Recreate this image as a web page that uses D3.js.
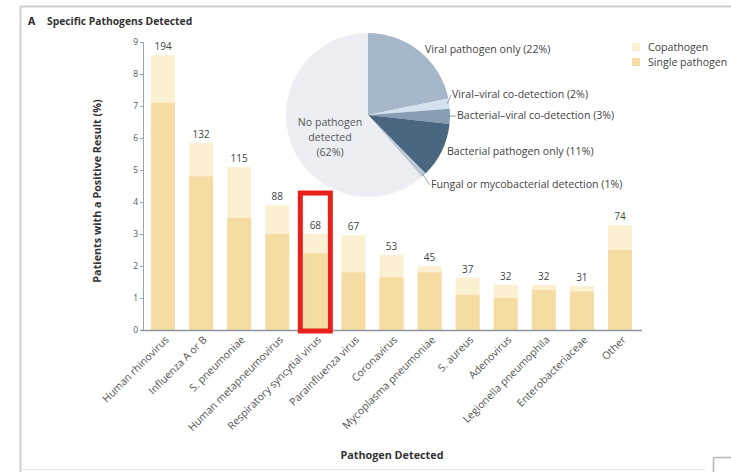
<!DOCTYPE html>
<html>
<head>
<meta charset="utf-8">
<script src="https://cdn.jsdelivr.net/npm/d3@7"></script>
<style>
  html, body { margin: 0; padding: 0; background: #fff; }
  svg { display: block; font-family: "Open Sans", "Noto Sans", sans-serif; }
</style>
</head>
<body>
<svg id="chart" width="731" height="472"></svg>
<script>
// Pathogens detected, patient counts and total enrolled
const pathogens = [
  "Human rhinovirus", "Influenza A or B", "S. pneumoniae", "Human metapneumovirus",
  "Respiratory syncytial virus", "Parainfluenza virus", "Coronavirus",
  "Mycoplasma pneumoniae", "S. aureus", "Adenovirus", "Legionella pneumophila",
  "Enterobacteriaceae", "Other"
];
const patientCounts = [194, 132, 115, 88, 68, 67, 53, 45, 37, 32, 32, 31, 74];
const totalPatients = 2259;
// Share of patients (%) in whom the pathogen was the only one detected
const singlePathogenPct = [7.1, 4.8, 3.5, 3.0, 2.4, 1.8, 1.65, 1.8, 1.1, 1.0, 1.25, 1.2, 2.5];
const yTicks = [0, 1, 2, 3, 4, 5, 6, 7, 8, 9];

// Overall detection breakdown (pie)
const pieLabels = [
  "Viral pathogen only (22%)", "Viral\u2013viral co-detection (2%)",
  "Bacterial\u2013viral co-detection (3%)", "Bacterial pathogen only (11%)",
  "Fungal or mycobacterial detection (1%)", "No pathogen detected (62%)"
];
const piePct = [22, 2, 3, 11, 1, 62];
const pieColors = ["#a6b7ca", "#d3e2ee", "#869db4", "#4a6680", "#b9c7d4", "#eceef4"];

const legendLabels = ["Copathogen", "Single pathogen"];
const copathColor = "#fbf1d2";
const singleColor = "#f5dca2";

const svg = d3.select("#chart");

// Panel frame
svg.append("path")
  .attr("d", "M20.5,472 L20.5,6.5 L731,6.5")
  .attr("fill", "none").attr("stroke", "#cfcfcf").attr("stroke-width", 2);
svg.append("path")
  .attr("d", "M20.5,469.5 L705,469.5")
  .attr("fill", "none").attr("stroke", "#e4e4e4").attr("stroke-width", 1);
svg.append("rect")
  .attr("x", 713.5).attr("y", 457.5).attr("width", 24).attr("height", 20).attr("rx", 2)
  .attr("fill", "none").attr("stroke", "#b5b5b5").attr("stroke-width", 1.5);

// Panel title
svg.append("text").attr("x", 28).attr("y", 25)
  .attr("font-size", 10.5).attr("font-weight", 700).attr("fill", "#222").text("A");
svg.append("text").attr("x", 47).attr("y", 25)
  .attr("font-size", 10.3).attr("font-weight", 700).attr("fill", "#333")
  .text("Specific Pathogens Detected");

// Scales
const x = d3.scaleBand().domain(pathogens).range([144, 639])
  .paddingInner(0.37).paddingOuter(0.185);
const y = d3.scaleLinear().domain([0, 9]).range([330, 42]);

const rows = pathogens.map((p, i) => ({
  name: p,
  count: patientCounts[i],
  total: patientCounts[i] / totalPatients * 100,
  single: singlePathogenPct[i]
}));

// Bars: full height (copathogen) then single-pathogen portion
const bars = svg.append("g");
bars.selectAll("rect.total").data(rows).join("rect")
  .attr("class", "total")
  .attr("x", d => x(d.name)).attr("width", x.bandwidth())
  .attr("y", d => y(d.total)).attr("height", d => y(0) - y(d.total))
  .attr("fill", copathColor);
bars.selectAll("rect.single").data(rows).join("rect")
  .attr("class", "single")
  .attr("x", d => x(d.name)).attr("width", x.bandwidth())
  .attr("y", d => y(d.single)).attr("height", d => y(0) - y(d.single))
  .attr("fill", singleColor);

// Count labels above bars
svg.append("g").selectAll("text").data(rows).join("text")
  .attr("x", d => x(d.name) + x.bandwidth() / 2)
  .attr("y", d => y(d.total) - 5)
  .attr("text-anchor", "middle").attr("font-size", 10).attr("fill", "#444")
  .text(d => d.count);

// Y axis
const yAxis = d3.axisLeft(y).tickValues(yTicks).tickSize(3).tickPadding(2);
const yg = svg.append("g").attr("transform", "translate(143,0)").call(yAxis);
yg.select(".domain").attr("stroke", "#9aa3b0");
yg.selectAll(".tick line").attr("stroke", "#9aa3b0");
yg.selectAll(".tick text").attr("font-size", 8.5).attr("fill", "#555")
  .attr("font-family", "\"Open Sans\", sans-serif");

// X axis
const xAxis = d3.axisBottom(x).tickSize(0).tickPadding(6);
const xg = svg.append("g").attr("transform", "translate(0,330)").call(xAxis);
xg.select(".domain").remove();
svg.append("line").attr("x1", 141).attr("x2", 642).attr("y1", 330.5).attr("y2", 330.5)
  .attr("stroke", "#8f96a0").attr("stroke-width", 1.5);
xg.selectAll(".tick text")
  .attr("font-size", 10.5).attr("fill", "#555")
  .attr("font-family", "\"Open Sans\", sans-serif")
  .attr("text-anchor", "end")
  .attr("dy", "0.3em")
  .attr("transform", "translate(0,4) rotate(-45)");

// Axis titles
svg.append("text")
  .attr("transform", "translate(101,191) rotate(-90)")
  .attr("text-anchor", "middle").attr("font-size", 10.8).attr("font-weight", 700).attr("fill", "#333")
  .text("Patients with a Positive Result (%)");
svg.append("text").attr("x", 392).attr("y", 459)
  .attr("text-anchor", "middle").attr("font-size", 10.8).attr("font-weight", 700).attr("fill", "#333")
  .text("Pathogen Detected");

// Highlight around respiratory syncytial virus
const hl = pathogens[4];
svg.append("rect")
  .attr("x", x(hl) - 3).attr("width", x.bandwidth() + 6)
  .attr("y", y(4.28)).attr("height", y(0) - y(4.28) + 1)
  .attr("fill", "none").attr("stroke", "#e8201a").attr("stroke-width", 5);

// Pie
const cx = 368, cy = 115, r = 82;
const pie = d3.pie().sort(null).value(d => d)(piePct);
const arc = d3.arc().innerRadius(0).outerRadius(r);
const pg = svg.append("g").attr("transform", `translate(${cx},${cy})`);
pg.selectAll("path").data(pie).join("path")
  .attr("d", arc).attr("fill", (d, i) => pieColors[i]);

// Pie labels
const outerLabels = [
  { i: 0, x: 423, y: 53, lead: null },
  { i: 1, x: 450, y: 98, lead: 0.5 },
  { i: 2, x: 455, y: 119, lead: 0.5 },
  { i: 3, x: 445, y: 155, lead: null },
  { i: 4, x: 429, y: 188, lead: 0.5 }
];
const lg = svg.append("g");
outerLabels.forEach(l => {
  const s = pie[l.i];
  if (l.lead !== null) {
    const a = s.startAngle + (s.endAngle - s.startAngle) * l.lead;
    const px = cx + Math.sin(a) * (r - 2), py = cy - Math.cos(a) * (r - 2);
    lg.append("line").attr("x1", px).attr("y1", py)
      .attr("x2", l.x + 1).attr("y2", l.y - 3)
      .attr("stroke", "#7d8da0").attr("stroke-width", 0.8);
  }
  lg.append("text").attr("x", l.x + 2).attr("y", l.y)
    .attr("font-size", 10.6).attr("fill", "#444").text(pieLabels[l.i]);
});
const noLines = ["No pathogen", "detected", "(62%)"];
lg.append("g").selectAll("text").data(noLines).join("text")
  .attr("x", 330).attr("y", (d, i) => 126 + i * 15)
  .attr("text-anchor", "middle").attr("font-size", 10.6).attr("fill", "#555")
  .text(d => d);

// Legend
const leg = svg.append("g").attr("transform", "translate(632,43)");
[copathColor, singleColor].forEach((c, i) => {
  leg.append("rect").attr("x", 0).attr("y", i * 15).attr("width", 8).attr("height", 8).attr("fill", c);
  leg.append("text").attr("x", 16).attr("y", i * 15 + 8)
    .attr("font-size", 10.6).attr("fill", "#444").text(legendLabels[i]);
});
</script>
</body>
</html>
